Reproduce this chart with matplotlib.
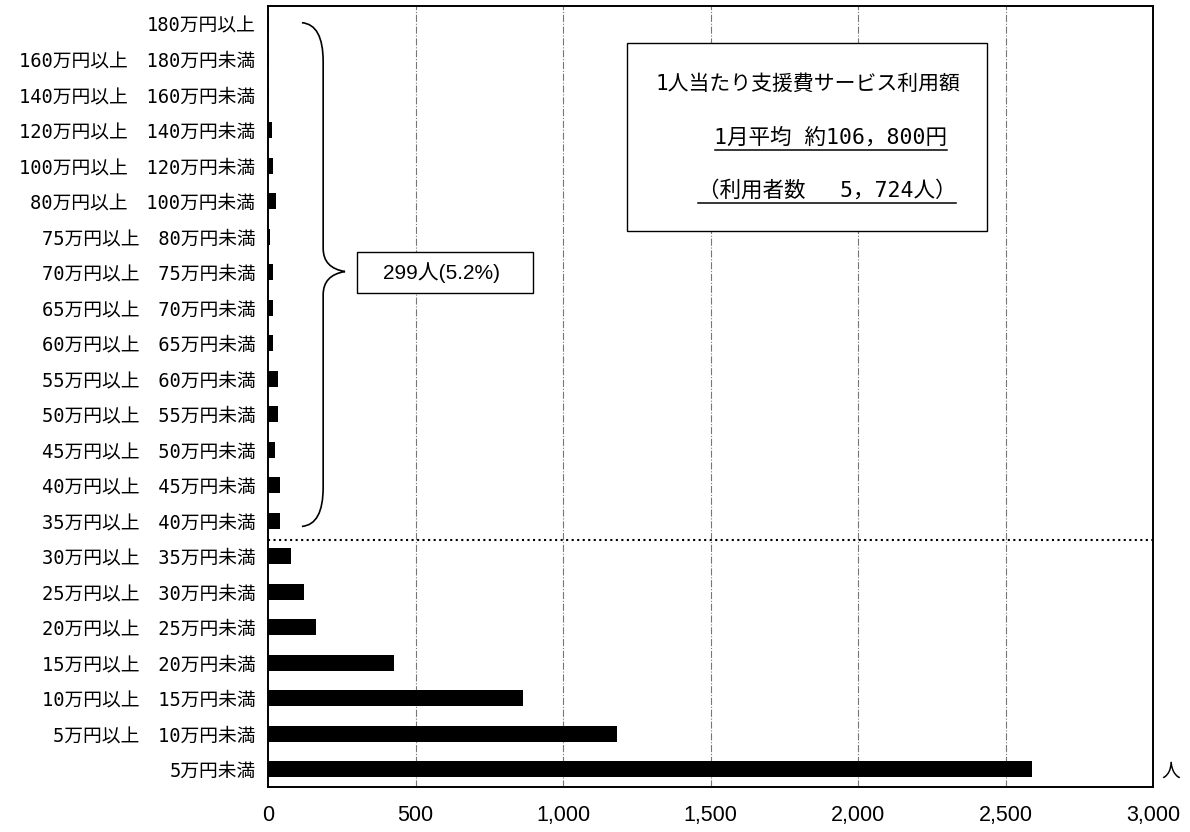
import numpy as np
import matplotlib
matplotlib.use("Agg")
import matplotlib.pyplot as plt
from matplotlib.path import Path
from matplotlib.patches import PathPatch, Rectangle

plt.rcParams['font.family'] = ['Noto Sans CJK JP', 'DejaVu Sans']
MONO_JP = ['DejaVu Sans Mono', 'Noto Sans CJK JP']
SANS_JP = ['Liberation Sans', 'Noto Sans CJK JP']

# categories from bottom to top
categories = ['5万円未満', '5万円以上　10万円未満', '10万円以上　15万円未満', '15万円以上　20万円未満',
              '20万円以上　25万円未満', '25万円以上　30万円未満', '30万円以上　35万円未満',
              '35万円以上　40万円未満', '40万円以上　45万円未満', '45万円以上　50万円未満',
              '50万円以上　55万円未満', '55万円以上　60万円未満', '60万円以上　65万円未満',
              '65万円以上　70万円未満', '70万円以上　75万円未満', '75万円以上　80万円未満',
              '80万円以上　100万円未満', '100万円以上　120万円未満', '120万円以上　140万円未満',
              '140万円以上　160万円未満', '160万円以上　180万円未満', '180万円以上']
# number of users (人)
users = [2590, 1182, 866, 427, 163, 122, 79,
         41, 41, 25, 33, 33, 18, 16, 18, 8, 28, 17, 12, 4, 3, 2]
xticks = [0, 500, 1000, 1500, 2000, 2500, 3000]
xticklabels = ['0', '500', '1,000', '1,500', '2,000', '2,500', '3,000']

W, H = 1190, 832
fig = plt.figure(figsize=(W / 100, H / 100), dpi=100)
ax = fig.add_axes([268 / W, 1 - 787 / H, (1153 - 268) / W, (787 - 6) / H])

y = np.arange(len(categories))
ax.barh(y, users, height=0.45, color='black', zorder=3)

ax.set_xlim(0, 3000)
ax.set_ylim(-0.5, len(categories) - 0.5)
ax.set_yticks(y)
ax.set_yticklabels(categories, fontsize=13.5, fontfamily=MONO_JP)
ax.set_xticks(xticks)
ax.set_xticklabels(xticklabels, fontsize=15.5, fontfamily=SANS_JP)
ax.tick_params(axis='y', length=0, pad=9)
ax.tick_params(axis='x', length=0, pad=13)

# vertical gridlines
for xv in xticks[1:-1]:
    ax.axvline(xv, color='#777777', lw=0.8, linestyle='-.', zorder=1)

for s in ax.spines.values():
    s.set_linewidth(1.4)
    s.set_color('black')

# dotted separator between 30-35 and 35-40
ax.axhline(6.45, color='black', lw=1.5, linestyle=':', zorder=4)

# brace for 35万円以上
bx0, bx1, btip = 115, 187, 261
ytop, ybot, ymid = 21.03, 6.84, 14.02
verts = [(bx0, ytop), (bx1, ytop - 0.05), (bx1, ytop - 1.1),
         (bx1, ymid + 0.65),
         (bx1, ymid + 0.1), (btip, ymid),
         (bx1, ymid - 0.1), (bx1, ymid - 0.65),
         (bx1, ybot + 1.1),
         (bx1, ybot + 0.05), (bx0, ybot)]
codes = [Path.MOVETO, Path.CURVE3, Path.CURVE3,
         Path.LINETO,
         Path.CURVE3, Path.CURVE3,
         Path.CURVE3, Path.CURVE3,
         Path.LINETO,
         Path.CURVE3, Path.CURVE3]
ax.add_patch(PathPatch(Path(verts, codes), facecolor='none', edgecolor='black', lw=1.2, zorder=5))

# 299人 box
fig.patches.append(Rectangle((357 / W, 1 - 293 / H), 176 / W, 41 / H, transform=fig.transFigure,
                             facecolor='white', edgecolor='black', lw=1.0, zorder=10))
fig.text(442 / W, 1 - 273 / H, '299人(5.2%)', fontsize=15, fontfamily=SANS_JP,
         ha='center', va='center', zorder=11)

# info box
fig.patches.append(Rectangle((627 / W, 1 - 231 / H), 360 / W, 188 / H, transform=fig.transFigure,
                             facecolor='white', edgecolor='black', lw=1.0, zorder=10))
fig.text(808 / W, 1 - 84 / H, '1人当たり支援費サービス利用額', fontsize=15, fontfamily=MONO_JP,
         ha='center', va='center', zorder=11)
t2 = fig.text(831 / W, 1 - 138 / H, '1月平均 約106，800円', fontsize=15.5, fontfamily=MONO_JP,
              ha='center', va='center', zorder=11)
t3 = fig.text(827 / W, 1 - 190 / H, '（利用者数　 5，724人）', fontsize=15.5, fontfamily=MONO_JP,
              ha='center', va='center', zorder=11)

# underlines drawn under the rendered text extent
fig.canvas.draw()
for t, uy in [(t2, 150), (t3, 203)]:
    bb = t.get_window_extent()
    fig.add_artist(plt.Line2D([bb.x0 / W, bb.x1 / W], [1 - uy / H] * 2, color='black', lw=1.1, zorder=11))

# unit label
fig.text(1171 / W, 1 - 771 / H, '人', fontsize=13.5, ha='center', va='center')

fig.savefig('out.png', dpi=100)
